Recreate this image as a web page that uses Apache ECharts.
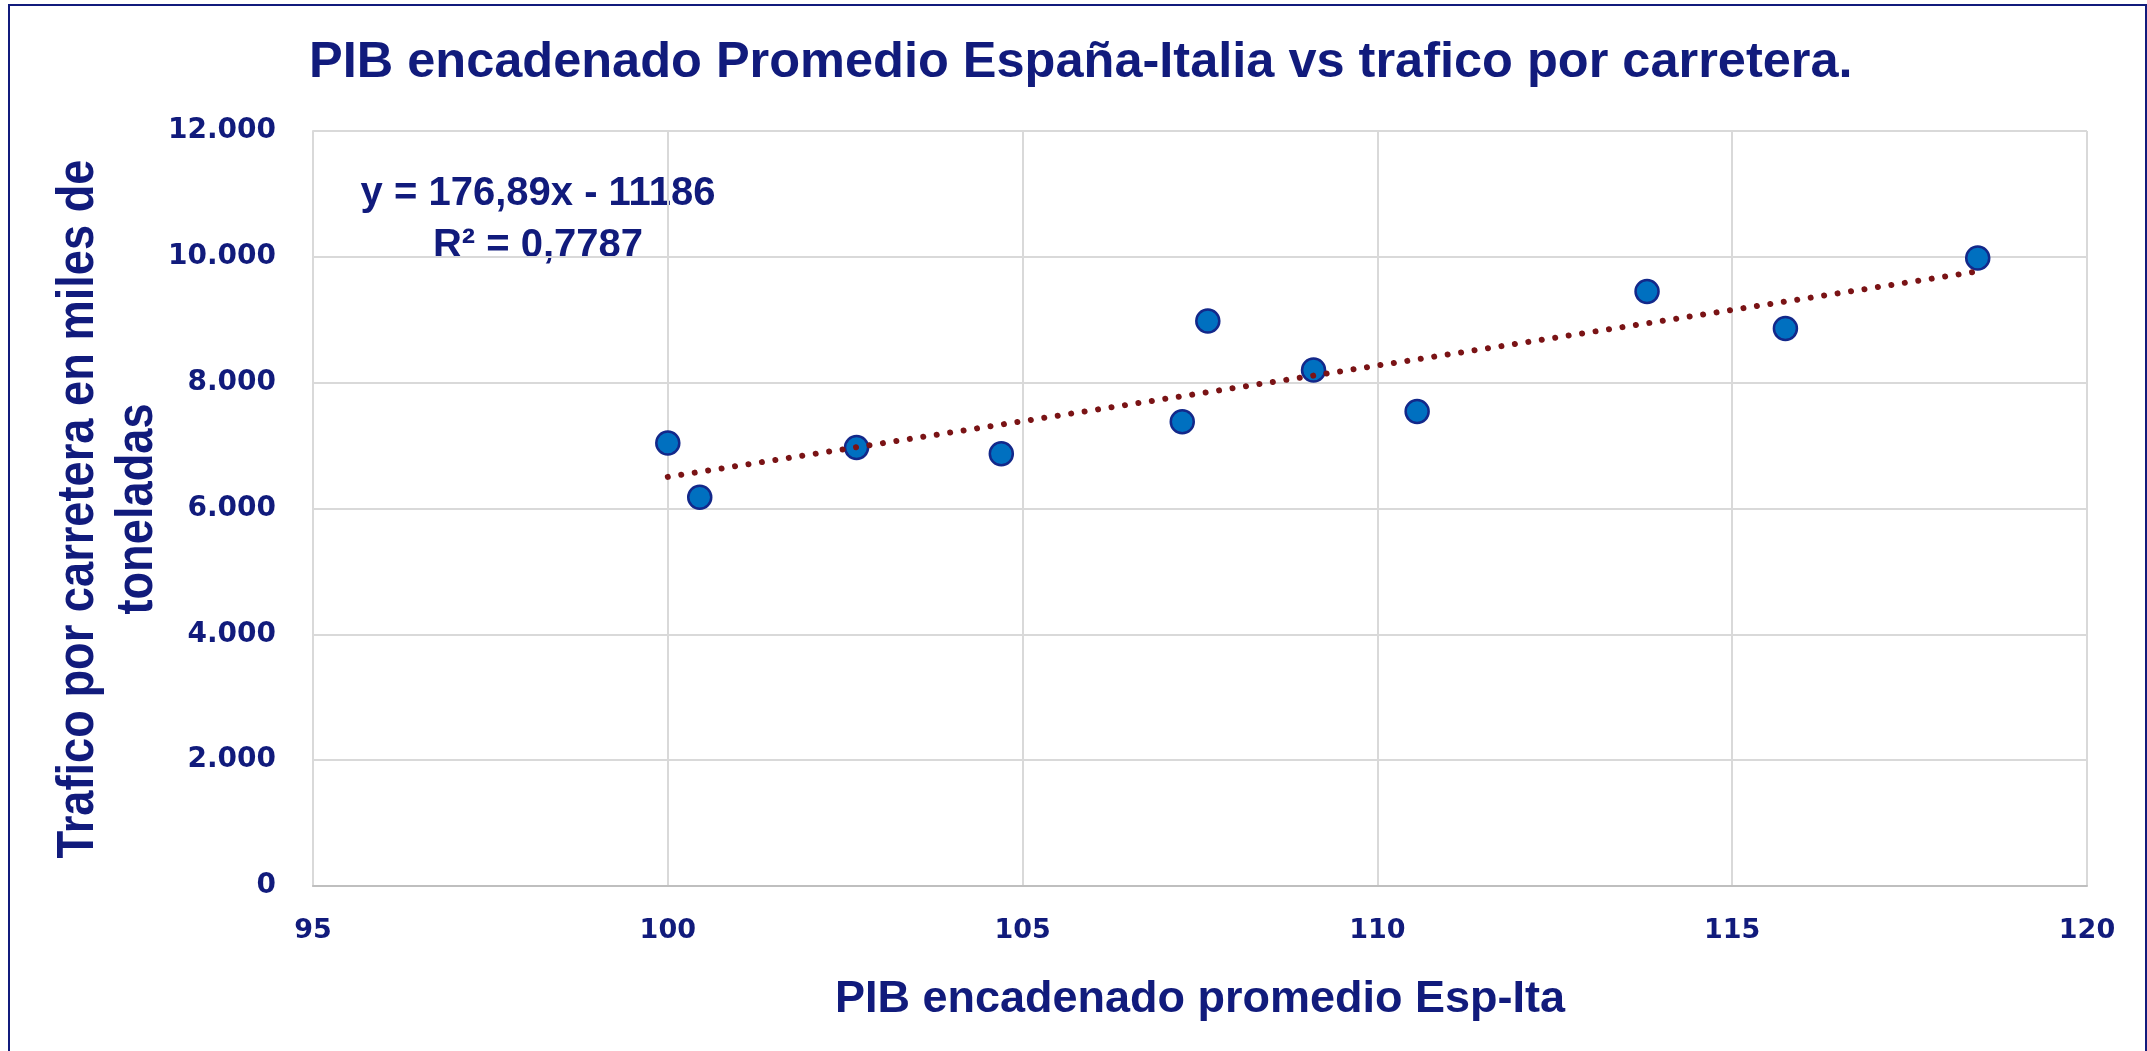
<!DOCTYPE html>
<html>
<head>
<meta charset="utf-8">
<title>PIB vs trafico por carretera</title>
<script src="https://cdn.jsdelivr.net/npm/echarts/dist/echarts.min.js"></script>
<style>
  html, body { margin: 0; padding: 0; background: #fff; }
  #scatterEchart { width: 2147px; height: 1051px; }
</style>
</head>
<body>
<div id="scatterEchart"></div>
<script>
// datos
let pibX = [100.0, 100.45, 102.66, 104.70, 107.25, 107.61, 109.10, 110.56, 113.80, 115.75, 118.46]
let traficoY = [7040, 6180, 6970, 6870, 7380, 8980, 8200, 7540, 9450, 8860, 9980]
let xTicks = [95, 100, 105, 110, 115, 120]
let yTicks = [0, 2000, 4000, 6000, 8000, 10000, 12000]
// linea de tendencia (de la etiqueta del grafico)
let pendiente = 176.89
let intercepto = -11186
let r2 = '0,7787'

const azul = '#111B7C'
const fuente = '"Liberation Sans", Arial, sans-serif'
const fuenteEjes = '"DejaVu Sans", Verdana, sans-serif'

let puntos = pibX.map((x, i) => [x, traficoY[i]])
let xMin = Math.min(...pibX)
let xMax = Math.max(...pibX)
let tendencia = [
    [xMin, pendiente * xMin + intercepto],
    [xMax, pendiente * xMax + intercepto]
]

// 12000 -> 12.000
function miles(v) {
    return String(v).replace(/\B(?=(\d{3})+(?!\d))/g, '.')
}

let myChart = echarts.init(document.getElementById('scatterEchart'))
myChart.setOption({
    animation: false,
    title: {
        text: 'PIB encadenado Promedio España-Italia vs trafico por carretera.',
        left: 309,
        top: 38,
        padding: 0,
        textStyle: { color: azul, fontSize: 50.5, fontWeight: 'bold', fontFamily: fuente }
    },
    grid: { left: 313, right: 60, top: 131, bottom: 165 },
    xAxis: {
        type: 'value',
        min: xTicks[0],
        max: xTicks[xTicks.length - 1],
        interval: 5,
        name: 'PIB encadenado promedio Esp-Ita',
        nameLocation: 'middle',
        nameGap: 91,
        nameTextStyle: { color: azul, fontSize: 45, fontWeight: 'bold', fontFamily: fuente },
        axisLine: { show: true, onZero: false, lineStyle: { color: '#BFBFBF', width: 2 } },
        axisTick: { show: false },
        axisLabel: { color: azul, fontSize: 27, fontWeight: 'bold', fontFamily: fuenteEjes, margin: 31 },
        splitLine: { show: true, lineStyle: { color: '#D9D9D9', width: 2 } }
    },
    yAxis: {
        type: 'value',
        min: yTicks[0],
        max: yTicks[yTicks.length - 1],
        interval: 2000,
        axisLine: { show: true, lineStyle: { color: '#D9D9D9', width: 2 } },
        axisTick: { show: false },
        axisLabel: {
            color: azul, fontSize: 28, fontWeight: 'bold', fontFamily: fuenteEjes, margin: 37,
            formatter: miles
        },
        splitLine: { show: true, lineStyle: { color: '#D9D9D9', width: 2 } }
    },
    graphic: [
        // marco exterior
        {
            type: 'rect',
            shape: { x: 9, y: 5, width: 2137, height: 1200 },
            style: { fill: 'none', stroke: azul, lineWidth: 2 },
            silent: true
        },
        // titulo eje y (texto estrecho)
        {
            type: 'text',
            x: 108,
            y: 509,
            rotation: Math.PI / 2,
            scaleX: 0.87,
            style: {
                text: 'Trafico por carretera en miles de\ntoneladas',
                fill: azul,
                font: 'bold 52px ' + fuente,
                lineHeight: 59,
                textAlign: 'center',
                textVerticalAlign: 'middle'
            }
        },
        // ecuacion
        {
            type: 'text',
            x: 538,
            y: 194,
            style: {
                text: 'y = ' + String(pendiente).replace('.', ',') + 'x - ' + Math.abs(intercepto),
                fill: azul,
                font: 'bold 40px ' + fuente,
                textAlign: 'center',
                textVerticalAlign: 'middle'
            }
        },
        {
            type: 'text',
            x: 538,
            y: 246,
            style: {
                text: 'R² = ' + r2,
                fill: azul,
                font: 'bold 40px ' + fuente,
                textAlign: 'center',
                textVerticalAlign: 'middle'
            }
        }
    ],
    series: [
        {
            name: 'Tendencia',
            type: 'line',
            data: tendencia,
            symbol: 'none',
            lineStyle: { color: '#7A1315', width: 6, type: [0.01, 13.6], cap: 'round' },
            z: 3
        },
        {
            name: 'Trafico',
            type: 'scatter',
            data: puntos,
            symbolSize: 23,
            itemStyle: { color: '#0070C0', borderColor: '#13288A', borderWidth: 2.5, opacity: 1 },
            z: 2
        }
    ]
})
</script>
</body>
</html>
